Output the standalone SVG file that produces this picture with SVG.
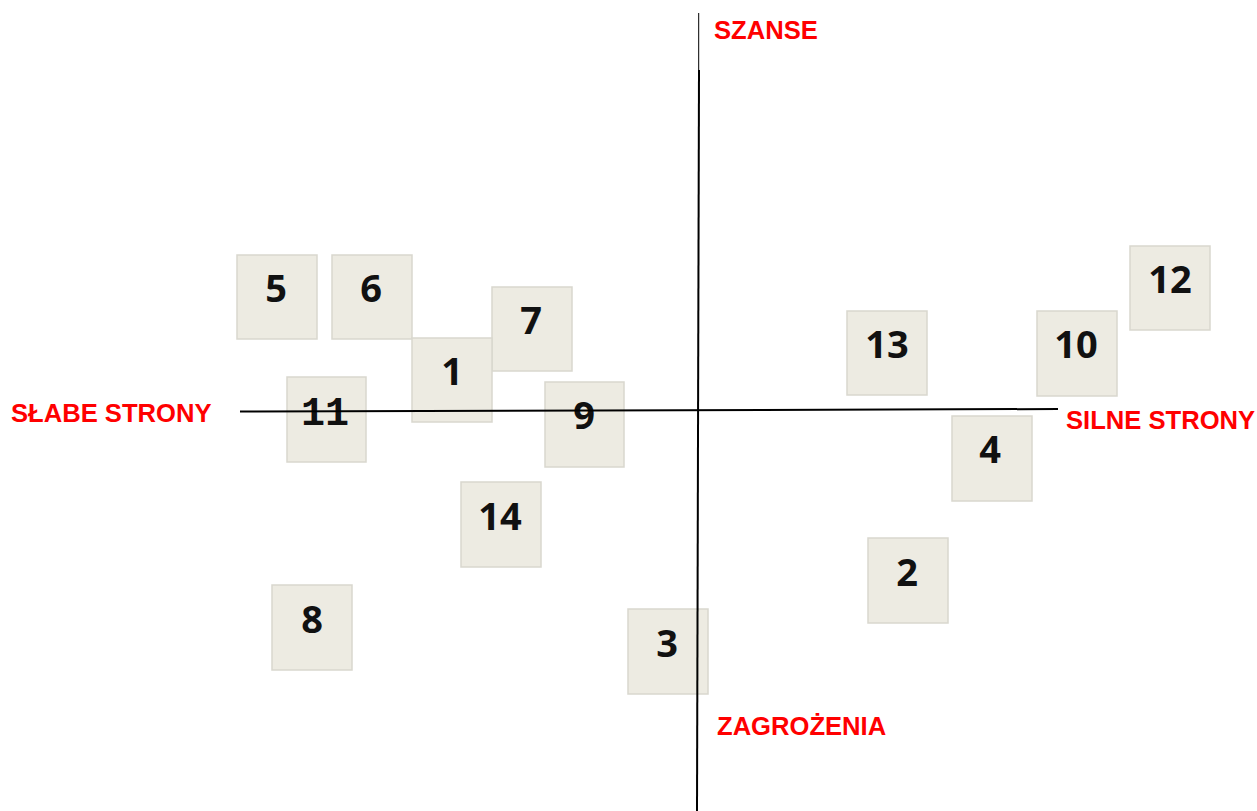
<svg xmlns="http://www.w3.org/2000/svg" width="1257" height="811" viewBox="0 0 1257 811">
<style>
.box{fill:#EDEBE2;stroke:#D9D7CE;stroke-width:1.5}
.num{font-family:"Open Sans","Liberation Sans",sans-serif;font-weight:bold;font-size:38px;fill:#111;text-anchor:middle}
.mono{font-family:"Liberation Mono",monospace;font-weight:bold;font-size:40px;fill:#111;text-anchor:middle}
.lbl{font-family:"Liberation Sans",Arial,sans-serif;font-weight:bold;font-size:25.6px;fill:#FF0000}
.axis{stroke:#000;fill:none}
</style>
<rect width="1257" height="811" fill="#fff"/>
<g id="node-5"><rect class="box" x="237" y="255" width="80" height="84"/><text class="num" x="276" y="302">5</text></g>
<g id="node-6"><rect class="box" x="332" y="255" width="80" height="84"/><text class="num" x="371" y="302">6</text></g>
<g id="node-7"><rect class="box" x="492" y="287" width="80" height="84"/><text class="num" x="531" y="334">7</text></g>
<g id="node-1"><rect class="box" x="412" y="338" width="80" height="84"/><text class="num" x="452" y="385">1</text></g>
<g id="node-9"><rect class="box" x="545" y="382" width="79" height="85"/><text class="num" x="584" y="429">9</text></g>
<g id="node-11"><rect class="box" x="287" y="377" width="79" height="85"/><text class="mono" x="325" y="425">11</text></g>
<g id="node-14"><rect class="box" x="461" y="482" width="80" height="85"/><text class="num" x="500" y="530">14</text></g>
<g id="node-8"><rect class="box" x="272" y="585" width="80" height="85"/><text class="num" x="312" y="633">8</text></g>
<g id="node-3"><rect class="box" x="628" y="609" width="80" height="85"/><text class="num" x="667" y="657">3</text></g>
<g id="node-13"><rect class="box" x="847" y="311" width="80" height="84"/><text class="num" x="887" y="358">13</text></g>
<g id="node-10"><rect class="box" x="1037" y="311" width="80" height="85"/><text class="num" x="1076" y="358">10</text></g>
<g id="node-12"><rect class="box" x="1130" y="246" width="80" height="84"/><text class="num" x="1170" y="293">12</text></g>
<g id="node-4"><rect class="box" x="952" y="416" width="80" height="85"/><text class="num" x="990" y="463">4</text></g>
<g id="node-2"><rect class="box" x="868" y="538" width="80" height="85"/><text class="num" x="907" y="586">2</text></g>
<g id="connectors">
<line class="axis" x1="698.7" y1="13" x2="698.7" y2="70" stroke-width="1"/>
<line class="axis" x1="699" y1="70" x2="697" y2="811" stroke-width="2"/>
<line class="axis" x1="240" y1="411.5" x2="1058" y2="409" stroke-width="2"/>
</g>
<g id="labels">
<text class="lbl" x="714" y="39">SZANSE</text>
<text class="lbl" x="11" y="422">SŁABE STRONY</text>
<text class="lbl" x="1066" y="429">SILNE STRONY</text>
<text class="lbl" x="717" y="735">ZAGROŻENIA</text>
</g>
</svg>
